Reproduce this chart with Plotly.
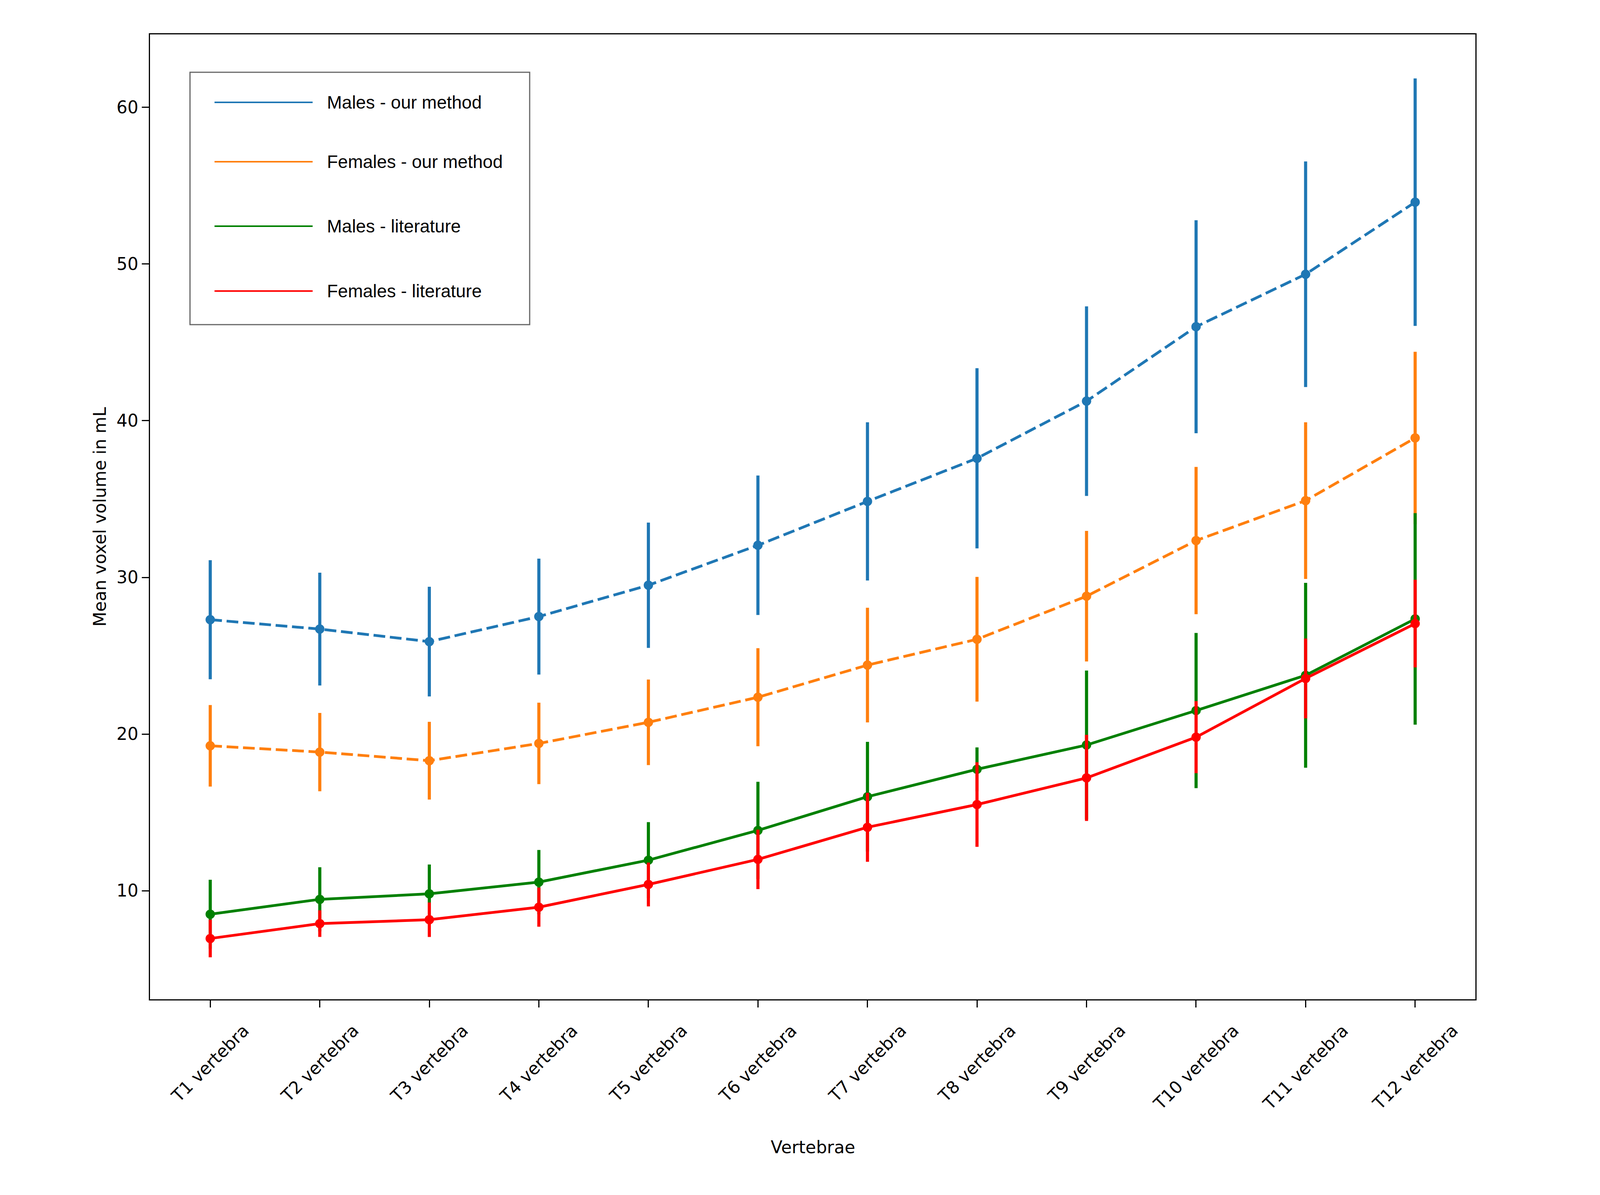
import plotly.graph_objects as go

# ---------------- data ----------------
vertebrae = ["T1 vertebra", "T2 vertebra", "T3 vertebra", "T4 vertebra", "T5 vertebra", "T6 vertebra",
             "T7 vertebra", "T8 vertebra", "T9 vertebra", "T10 vertebra", "T11 vertebra", "T12 vertebra"]

males_our_mean = [27.3, 26.7, 25.9, 27.5, 29.5, 32.05, 34.85, 37.6, 41.25, 46.0, 49.35, 53.95]
males_our_sd = [3.8, 3.6, 3.5, 3.7, 4.0, 4.45, 5.05, 5.75, 6.05, 6.8, 7.2, 7.9]

females_our_mean = [19.25, 18.85, 18.3, 19.4, 20.75, 22.35, 24.4, 26.05, 28.8, 32.35, 34.9, 38.9]
females_our_sd = [2.6, 2.5, 2.48, 2.6, 2.73, 3.13, 3.66, 3.98, 4.17, 4.7, 5.0, 5.5]

males_lit_mean = [8.5, 9.45, 9.8, 10.55, 11.95, 13.85, 16.0, 17.75, 19.3, 21.5, 23.75, 27.35]
males_lit_sd = [2.2, 2.05, 1.87, 2.05, 2.43, 3.1, 3.5, 1.4, 4.75, 4.95, 5.9, 6.75]

females_lit_mean = [6.95, 7.9, 8.15, 8.95, 10.4, 12.0, 14.05, 15.5, 17.2, 19.8, 23.55, 27.05]
females_lit_sd = [1.2, 0.85, 1.1, 1.25, 1.4, 1.9, 2.2, 2.7, 2.75, 2.3, 2.55, 2.8]

series_names = ["Males - our method", "Females - our method", "Males - literature", "Females - literature"]
y_ticks = [10, 20, 30, 40, 50, 60]

# ---------------- styling ----------------
# the browser viewport is 4096 x 3059; layout fractions follow the 6000 x 3059 reference
W, H = 4096, 3059
REF_W = 6000
sx = W / REF_W
REF_L, REF_R, REF_T, REF_B = 562, 5533, 88, 2558   # plot area in reference pixels
PL, PR, PT, PB = REF_L * sx, REF_R * sx, REF_T, REF_B

colors = ["#1f77b4", "#ff7f0e", "#008000", "#ff0000"]
dashes = ["30px,12px", "30px,12px", "solid", "solid"]
means = [males_our_mean, females_our_mean, males_lit_mean, females_lit_mean]
sds = [males_our_sd, females_our_sd, males_lit_sd, females_lit_sd]

TICK_FONT = "DejaVu Sans"
LEG_FONT = "Liberation Sans, Arial"
TICK_SIZE = 44
LEG_SIZE = 46


def rx(ref_px):
    """reference x pixel -> paper fraction"""
    return (ref_px - REF_L) / (REF_R - REF_L)


def ry(ref_py):
    """reference y pixel -> paper fraction"""
    return (REF_B - ref_py) / (REF_B - REF_T)


fig = go.Figure()
for name, m, s, c, d in zip(series_names, means, sds, colors, dashes):
    fig.add_trace(go.Scatter(
        x=vertebrae, y=m, name=name, mode="lines+markers",
        line=dict(color=c, width=7, dash=d),
        marker=dict(color=c, size=24),
        error_y=dict(type="data", array=s, visible=True, color=c, thickness=8, width=0),
        showlegend=False,
    ))

annotations = []
# rotated category labels
for v in vertebrae:
    annotations.append(dict(
        x=v, xref="x", y=-0.021, yref="paper", text=v, showarrow=False,
        textangle=-45, xanchor="center", yanchor="top",
        font=dict(family=TICK_FONT, size=TICK_SIZE, color="black")))
# axis titles
annotations.append(dict(x=0.5, xref="paper", y=ry(2936), yref="paper", text="Vertebrae",
                        showarrow=False, xanchor="center", yanchor="middle",
                        font=dict(family=TICK_FONT, size=TICK_SIZE, color="black")))
annotations.append(dict(x=rx(373), xref="paper", y=0.5, yref="paper", text="Mean voxel volume in mL",
                        showarrow=False, textangle=-90, xanchor="center", yanchor="middle",
                        font=dict(family=TICK_FONT, size=TICK_SIZE, color="black")))

# legend (box, line handles, labels)
shapes = [dict(type="rect", xref="paper", yref="paper",
               x0=rx(712), x1=rx(1986), y0=ry(185), y1=ry(831),
               line=dict(color="#666666", width=3), fillcolor="white", layer="above")]
leg_y = [262, 414, 579, 745]
for name, c, ly in zip(series_names, colors, leg_y):
    shapes.append(dict(type="line", xref="paper", yref="paper",
                       x0=rx(804), x1=rx(1172), y0=ry(ly), y1=ry(ly),
                       line=dict(color=c, width=4), layer="above"))
    annotations.append(dict(x=rx(1223), xref="paper", y=ry(ly), yref="paper", text=name,
                            showarrow=False, xanchor="left", yanchor="middle",
                            font=dict(family=LEG_FONT, size=LEG_SIZE, color="black")))

fig.update_layout(
    width=W, height=H,
    margin=dict(l=PL, r=W - PR, t=PT, b=H - PB, pad=0),
    paper_bgcolor="white", plot_bgcolor="white",
    showlegend=False,
    shapes=shapes,
    annotations=annotations,
    xaxis=dict(type="category", range=[-0.55, 11.55], showticklabels=False,
               ticks="outside", ticklen=18, tickwidth=3, tickcolor="black",
               showline=True, linecolor="black", linewidth=3, mirror=True,
               showgrid=False, zeroline=False),
    yaxis=dict(range=[3.07, 64.66], tickvals=y_ticks, ticktext=[str(t) for t in y_ticks],
               ticks="outside", ticklen=18, tickwidth=3, tickcolor="black",
               tickfont=dict(family=TICK_FONT, size=TICK_SIZE, color="black"),
               showline=True, linecolor="black", linewidth=3, mirror=True,
               showgrid=False, zeroline=False),
)

fig.write_html("out.html", config={"displayModeBar": False},
               post_script="document.body.style.margin='0';document.body.style.overflow='hidden';")
